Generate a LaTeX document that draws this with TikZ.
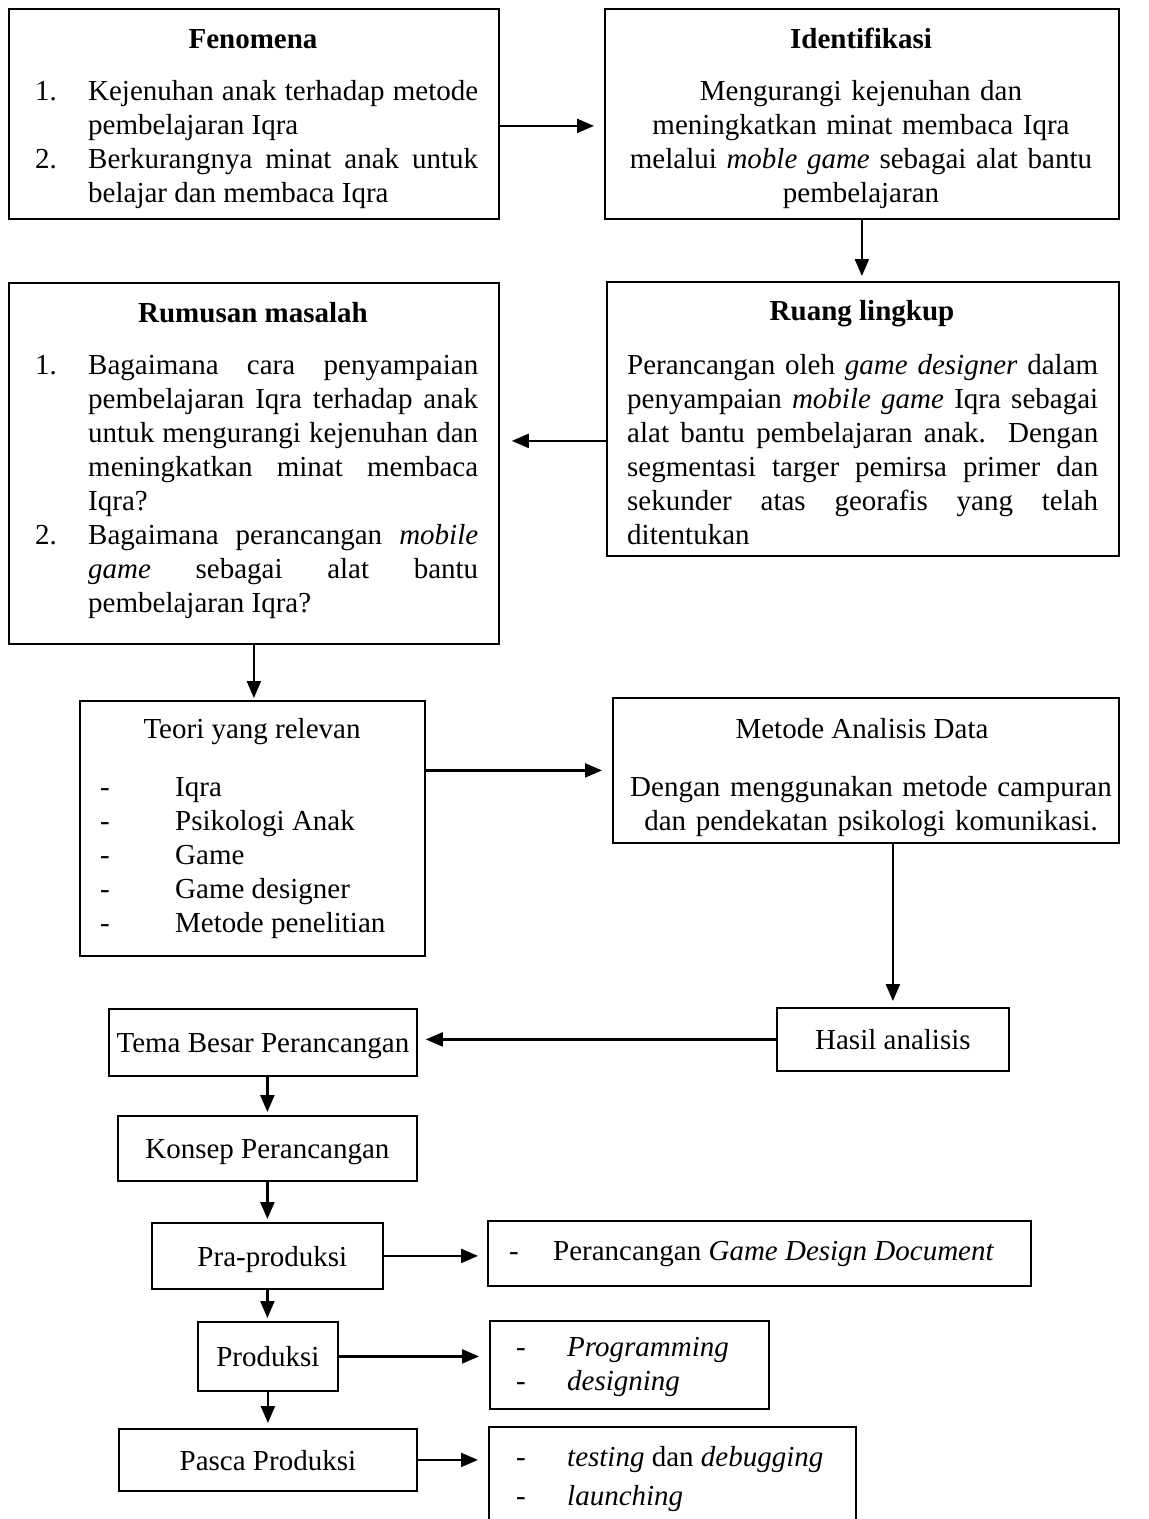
\documentclass[tikz,border=0pt]{standalone}
\usepackage{fontspec}
\setmainfont{Liberation Serif}
\usetikzlibrary{arrows.meta}
\tikzset{
  box/.style={draw, line width=1.8pt, inner sep=0pt, anchor=north west},
  sbox/.style={box, align=center, text height=24pt, text depth=3pt},
  txt/.style={inner sep=0pt, anchor=north west},
  ttl/.style={inner sep=0pt, anchor=base, font=\bfseries},
  arr/.style={line width=2.3pt, -{Triangle[length=17pt,width=14pt]}},
}
\newcommand{\numitem}[2]{\par\hangindent=53pt\hangafter=1\noindent\makebox[53pt][l]{\strut#1}#2\par}
\begin{document}
\fontsize{29}{34}\selectfont
\tolerance=10000\parindent=0pt
\begin{tikzpicture}[x=1pt, y=-1pt]
\clip (0,0) rectangle (1149,1519);
\fill[white] (0,0) rectangle (1149,1519);

% Fenomena
\node[box, minimum width=490pt, minimum height=210pt] (fen) at (8,8) {};
\node[ttl] (fent) at (253,48) {Fenomena};
\node[txt, text width=443pt, align=justify] (fenb) at (35,66) {%
\numitem{1.}{Kejenuhan anak terhadap metode\linebreak pembelajaran Iqra}%
\numitem{2.}{Berkurangnya minat anak untuk\linebreak belajar dan membaca Iqra}};

% Identifikasi
\node[box, minimum width=514pt, minimum height=210pt] (ide) at (604,8) {};
\node[ttl] (idet) at (861,48) {Identifikasi};
\node[txt, anchor=north, text width=500pt, align=center] (ideb) at (861,76) {\strut Mengurangi kejenuhan dan\\ meningkatkan minat membaca Iqra\\ melalui \textit{moble game} sebagai alat bantu\\ pembelajaran};

% Ruang lingkup
\node[box, minimum width=512pt, minimum height=274pt] (rua) at (606,281) {};
\node[ttl] (ruat) at (862,320) {Ruang lingkup};
\node[txt, text width=471pt, align=justify] (ruab) at (627,350) {\strut Perancangan oleh \textit{game designer} dalam\linebreak penyampaian \textit{mobile game} Iqra sebagai\linebreak alat bantu pembelajaran anak. Dengan\linebreak segmentasi targer pemirsa primer dan\linebreak sekunder atas georafis yang telah\linebreak ditentukan};

% Rumusan masalah
\node[box, minimum width=490pt, minimum height=361pt] (rum) at (8,282) {};
\node[ttl] (rumt) at (253,322) {Rumusan masalah};
\node[txt, text width=443pt, align=justify] (rumb) at (35,340) {%
\numitem{1.}{Bagaimana cara penyampaian\linebreak pembelajaran Iqra terhadap anak\linebreak untuk mengurangi kejenuhan dan\linebreak meningkatkan minat membaca\linebreak Iqra?}%
\numitem{2.}{Bagaimana perancangan \textit{mobile}\linebreak \textit{game} sebagai alat bantu\linebreak pembelajaran Iqra?}};

% Teori yang relevan
\node[box, minimum width=345pt, minimum height=255pt] (teo) at (79,700) {};
\node[inner sep=0pt, anchor=base] (teot) at (252,738) {Teori yang relevan};
\node[txt, align=left] (teob) at (100,772) {%
\makebox[75pt][l]{\strut-}Iqra\\
\makebox[75pt][l]{-}Psikologi Anak\\
\makebox[75pt][l]{-}Game\\
\makebox[75pt][l]{-}Game designer\\
\makebox[75pt][l]{-}Metode penelitian};

% Metode Analisis Data
\node[box, minimum width=506pt, minimum height=145pt] (met) at (612,697) {};
\node[inner sep=0pt, anchor=base] (mett) at (862,738) {Metode Analisis Data};
\node[txt, anchor=north, text width=490pt, align=center] (metb) at (871,772) {\strut Dengan menggunakan metode campuran\\ dan pendekatan psikologi komunikasi.};

% Hasil analisis and lower chain
\node[sbox, minimum width=232pt, minimum height=63pt] (has) at (776,1007) {Hasil analisis};
\node[sbox, minimum width=308pt, minimum height=67pt] (tem) at (108,1008) {Tema Besar Perancangan};
\node[sbox, minimum width=299pt, minimum height=65pt] (kon) at (117,1115) {Konsep Perancangan};
\node[sbox, minimum width=231pt, minimum height=66pt] (pra) at (151,1222) {\hspace*{10pt}Pra-produksi};
\node[sbox, minimum width=140pt, minimum height=69pt] (prd) at (197,1321) {Produksi};
\node[sbox, minimum width=298pt, minimum height=62pt] (pas) at (118,1428) {Pasca Produksi};

% Right-side detail boxes
\node[box, minimum width=543pt, minimum height=65pt] (gdd) at (487,1220) {};
\node[txt] (gddt) at (509,1236) {\makebox[44pt][l]{\strut-}Perancangan \textit{Game Design Document}};
\node[box, minimum width=279pt, minimum height=88pt] (prg) at (489,1320) {};
\node[txt, align=left] (prgt) at (516,1332) {\makebox[51pt][l]{\strut-}\textit{Programming}\\ \makebox[51pt][l]{-}\textit{designing}};
\node[box, minimum width=367pt, minimum height=110pt] (tst) at (488,1426) {};
\node[txt, align=left] (tstt) at (516,1442) {\makebox[51pt][l]{\strut-}\textit{testing} dan \textit{debugging}\\[5pt] \makebox[51pt][l]{-}\textit{launching}};

% Connectors
\draw[arr, shorten >=10pt] ([yshift=-12pt]fen.east) -- ([yshift=-12pt]fen.east -| ide.west);
\draw[arr, shorten >=5pt] (ide.south) -- (ide.south |- rua.north);
\draw[arr, shorten >=12pt] ([yshift=-22pt]rua.west) -- ([yshift=-22pt]rua.west -| rum.east);
\draw[arr, shorten >=2pt] (rum.south) -- (rum.south |- teo.north);
\draw[arr, shorten >=10pt] (teo.east |- met.west) -- (met.west);
\draw[arr, shorten >=6pt] (has.north |- met.south) -- (has.north);
\draw[arr, shorten >=8pt] (has.west) -- (has.west -| tem.east);
\draw[arr, shorten >=3pt] (kon.north |- tem.south) -- (kon.north);
\draw[arr, shorten >=3pt] (kon.south) -- (kon.south |- pra.north);
\draw[arr, shorten >=9pt] (pra.east) -- (pra.east -| gdd.west);
\draw[arr, shorten >=3pt] (pra.south) -- (pra.south |- prd.north);
\draw[arr, shorten >=10pt] (prd.east) -- (prd.east -| prg.west);
\draw[arr, shorten >=5pt] (prd.south) -- (prd.south |- pas.north);
\draw[arr, shorten >=10pt] (pas.east) -- (pas.east -| tst.west);
\end{tikzpicture}
\end{document}
